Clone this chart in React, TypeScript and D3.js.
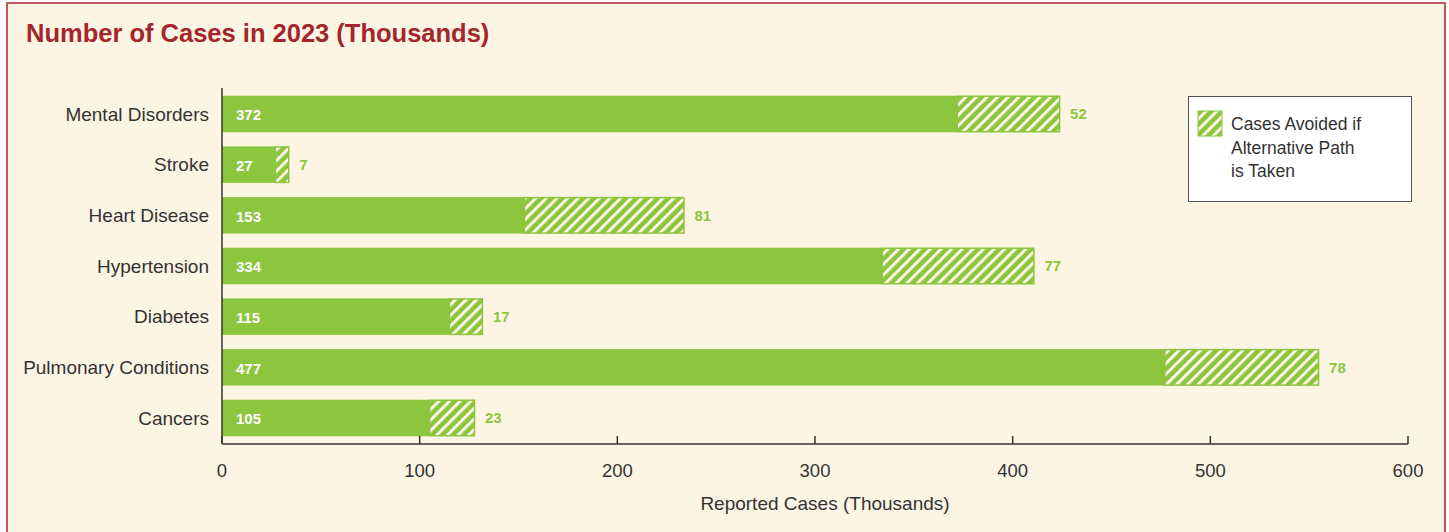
import React from "react";
import * as d3 from "d3";

const categories = [
  "Mental Disorders",
  "Stroke",
  "Heart Disease",
  "Hypertension",
  "Diabetes",
  "Pulmonary Conditions",
  "Cancers"
];
const reported = [372, 27, 153, 334, 115, 477, 105];
const avoided = [52, 7, 81, 77, 17, 78, 23];
const xTicks = [0, 100, 200, 300, 400, 500, 600];
const legendLines = ["Cases Avoided if", "Alternative Path", "is Taken"];

const W = 1449;
const H = 532;
const green = "#8cc63f";
const bg = "#fdf5e3";
const font = "'Liberation Sans', Arial, sans-serif";

export default function App() {
  const x = d3.scaleLinear().domain([0, 600]).range([222, 1408]);
  const y = d3
    .scaleBand<string>()
    .domain(categories)
    .range([88, 444])
    .paddingInner(0.28)
    .paddingOuter(0.153);
  const bh = y.bandwidth();

  return (
    <svg
      width={W}
      height={H}
      style={{ position: "absolute", left: 0, top: 0, fontFamily: font }}
    >
      <defs>
        <pattern
          id="hatch"
          patternUnits="userSpaceOnUse"
          width={7.5}
          height={7.5}
          patternTransform="rotate(45)"
        >
          <rect width={7.5} height={7.5} fill={green} />
          <rect width={3} height={7.5} fill={bg} />
        </pattern>
      </defs>
      <rect x={0} y={0} width={W} height={H} fill="#fff" />
      <rect x={7} y={3} width={1438} height={H + 10} fill={bg} stroke="#c1595e" strokeWidth={2} />

      <text x={26} y={42} fontSize={25.5} fontWeight="bold" fill="#a3262c">
        Number of Cases in 2023 (Thousands)
      </text>

      {categories.map((c, i) => {
        const y0 = y(c)!;
        const cy = y0 + bh / 2;
        const total = reported[i] + avoided[i];
        return (
          <g key={c}>
            <text x={209} y={cy} dy="0.35em" textAnchor="end" fontSize={19} fill="#333">
              {c}
            </text>
            <rect x={x(0)} y={y0} width={x(reported[i]) - x(0)} height={bh} fill={green} />
            <rect
              x={x(reported[i])}
              y={y0 + 0.5}
              width={x(total) - x(reported[i]) - 0.5}
              height={bh - 1}
              fill="url(#hatch)"
              stroke={green}
              strokeWidth={1.5}
            />
            <text x={x(0) + 14} y={cy + 1} dy="0.35em" fontSize={15} fontWeight="bold" fill="#fff">
              {reported[i]}
            </text>
            <text x={x(total) + 10} y={cy} dy="0.35em" fontSize={15} fontWeight="bold" fill={green}>
              {avoided[i]}
            </text>
          </g>
        );
      })}

      <line x1={x(0)} x2={x(0)} y1={88} y2={444} stroke="#333" strokeWidth={1.5} />
      <line x1={x(0)} x2={x(600)} y1={444} y2={444} stroke="#333" strokeWidth={1.5} />
      {xTicks.map(t => (
        <g key={t}>
          <line x1={x(t)} x2={x(t)} y1={444} y2={436} stroke="#333" strokeWidth={1.5} />
          <text x={x(t)} y={477} textAnchor="middle" fontSize={18.5} fill="#333">
            {t}
          </text>
        </g>
      ))}
      <text x={825} y={510} textAnchor="middle" fontSize={19} fill="#333">
        Reported Cases (Thousands)
      </text>

      <rect x={1188.5} y={96.5} width={223} height={105} fill="#fff" stroke="#555" strokeWidth={1} />
      <rect x={1198} y={111} width={24} height={25} fill="url(#hatch)" stroke={green} strokeWidth={1} />
      {legendLines.map((l, i) => (
        <text key={l} x={1231} y={130 + i * 23.5} fontSize={17.5} fill="#333">
          {l}
        </text>
      ))}
    </svg>
  );
}
